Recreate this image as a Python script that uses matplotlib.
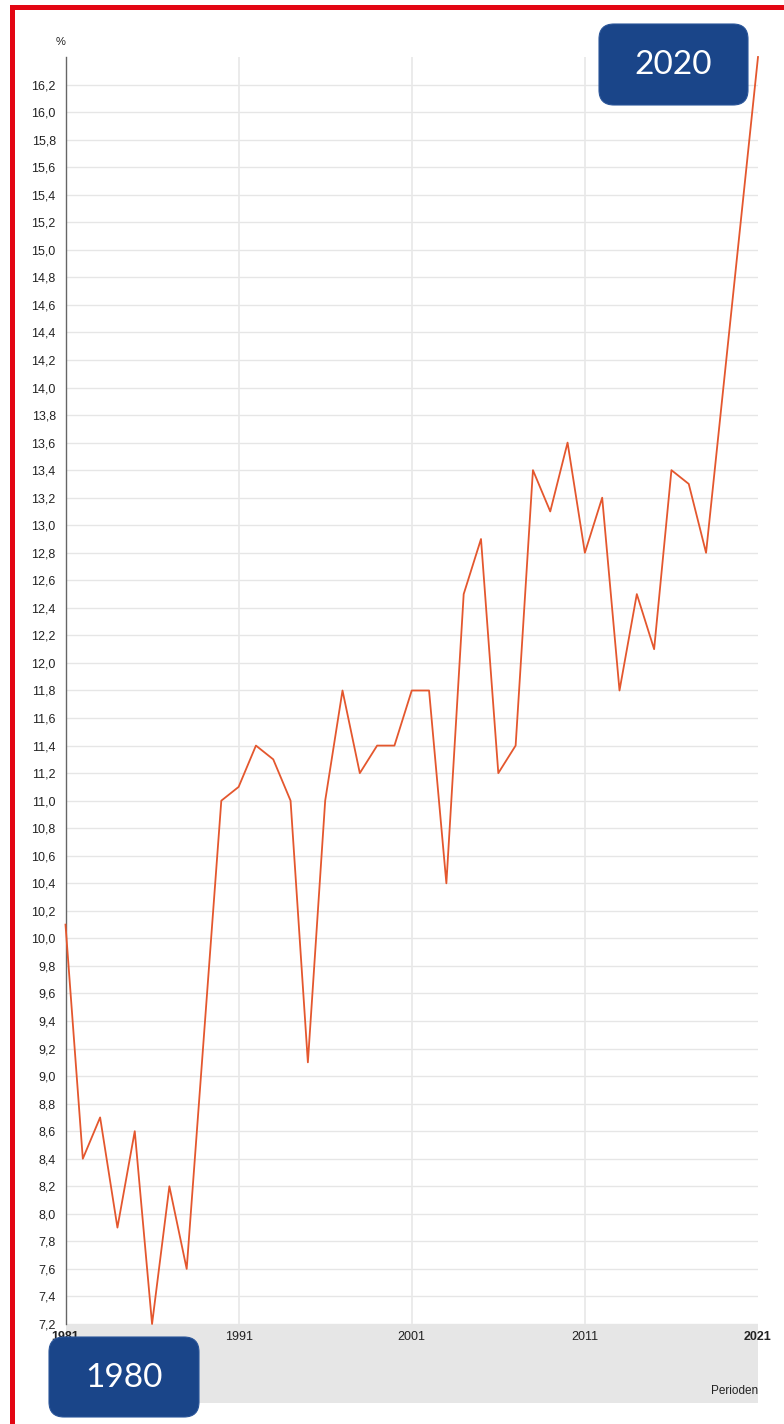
import matplotlib
matplotlib.use("Agg")
import matplotlib.pyplot as plt
from matplotlib.patches import Rectangle, FancyBboxPatch

years = list(range(1981, 2022))
values = [10.1, 8.4, 8.7, 7.9, 8.6, 7.2, 8.2, 7.6, 9.3, 11.0,
          11.1, 11.4, 11.3, 11.0, 9.1, 11.0, 11.8, 11.2, 11.4, 11.4,
          11.8, 11.8, 10.4, 12.5, 12.9, 11.2, 11.4, 13.4, 13.1, 13.6,
          12.8, 13.2, 11.8, 12.5, 12.1, 13.4, 13.3, 12.8, 14.0, 15.2,
          16.4]
xtick_years = [1981, 1991, 2001, 2011, 2021]
ytick_values = [round(7.2 + 0.2 * i, 1) for i in range(46)]
unit_label = "%"
xaxis_label = "Perioden"
badge_top = "2020"
badge_bottom = "1980"

W, H = 784, 1424
fig = plt.figure(figsize=(W / 100, H / 100), dpi=100)
fig.patch.set_facecolor("white")

def fx(px):
    return px / W

def fy(py):
    return 1 - py / H

L, R, T, B = 65.5, 758, 57, 1324
ax = fig.add_axes([fx(L), fy(B), fx(R) - fx(L), fy(T) - fy(B)])
ax.plot(years, values, color="#e4572e", lw=1.3, zorder=3, clip_on=False)
ax.set_xlim(1981, 2021)
ax.set_ylim(7.2, 16.4)

ax.set_yticks(ytick_values)
ax.set_yticklabels([f"{v:.1f}".replace(".", ",") for v in ytick_values],
                   fontsize=9, family="Liberation Sans", color="#222222")
ax.set_xticks(xtick_years)
ax.set_xticklabels([str(y) for y in xtick_years], fontsize=9,
                   family="Liberation Sans", color="#222222")
for lbl in ax.get_xticklabels():
    if lbl.get_text() in ("1981", "2021"):
        lbl.set_fontweight("bold")
ax.tick_params(axis="y", length=0, pad=7)
ax.tick_params(axis="x", length=0, pad=5)

ax.grid(axis="y", color="#e6e6e6", lw=1)
for yv in xtick_years[1:-1]:
    ax.axvline(yv, color="#e8e8e8", lw=1.2, zorder=1)
ax.set_axisbelow(True)
for s in ["top", "right", "bottom"]:
    ax.spines[s].set_visible(False)
ax.spines["left"].set_color("#666666")
ax.spines["left"].set_linewidth(1)

# grey band under x axis
band = Rectangle((fx(L), fy(1403)), fx(R) - fx(L), fy(B) - fy(1403),
                 transform=fig.transFigure, facecolor="#e6e6e6",
                 edgecolor="none", zorder=-5)
fig.patches.append(band)

fig.text(fx(61), fy(42), unit_label, fontsize=8, family="Liberation Sans",
         ha="center", va="center", color="#222222")
fig.text(fx(R), fy(1391), xaxis_label, fontsize=8.5, family="Liberation Sans",
         ha="right", va="center", color="#222222")

# red border
fig.patches.append(Rectangle((fx(10), 0), fx(15) - fx(10), fy(5),
                             transform=fig.transFigure, facecolor="#e30613",
                             edgecolor="none", zorder=10))
fig.patches.append(Rectangle((fx(10), fy(10)), 1, fy(5) - fy(10),
                             transform=fig.transFigure, facecolor="#e30613",
                             edgecolor="none", zorder=10))

def badge(x0, y0, x1, y1, text):
    r = 15
    p = FancyBboxPatch((x0 + r, H - y1 + r), (x1 - x0) - 2 * r, (y1 - y0) - 2 * r,
                       boxstyle=f"round,pad={r}", transform=None,
                       facecolor="#1a4589", edgecolor="#2a5599", lw=0.8,
                       zorder=20)
    fig.patches.append(p)
    fig.text(fx((x0 + x1) / 2), fy((y0 + y1) / 2 + 1), text, fontsize=24,
             family="Lato", color="white", ha="center", va="center",
             zorder=21)

badge(599, 24, 748, 105, badge_top)
badge(49, 1337, 199, 1417, badge_bottom)

fig.savefig("out.png", dpi=100, facecolor="white")
